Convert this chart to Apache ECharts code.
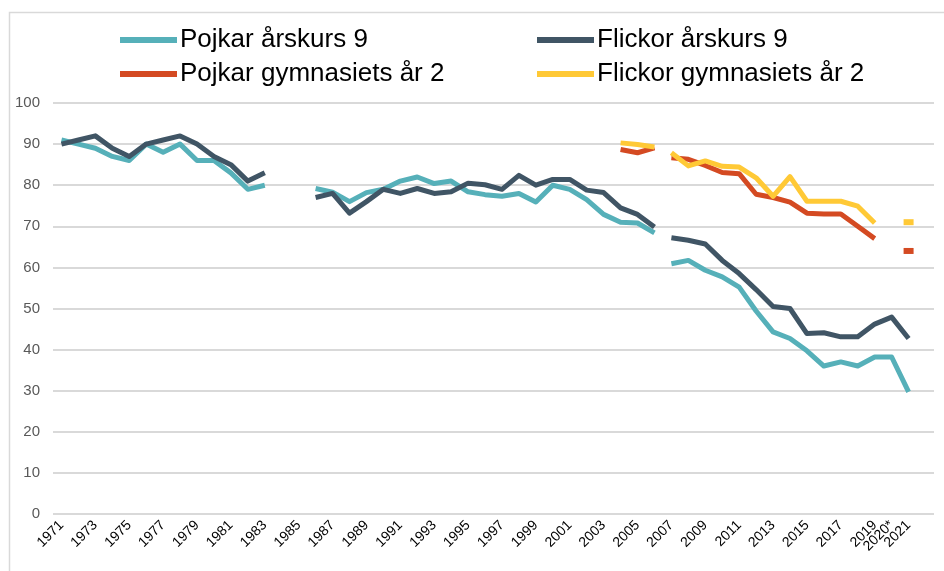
<!DOCTYPE html>
<html>
<head>
<meta charset="utf-8">
<script src="https://cdn.jsdelivr.net/npm/echarts@6/dist/echarts.min.js"></script>
<style>
html,body{margin:0;padding:0;background:#fff;}
#chart{width:944px;height:571px;}
</style>
</head>
<body>
<div id="chart"></div>
<script>
// Categories (years)
var categories = ['1971','1972','1973','1974','1975','1976','1977','1978','1979','1980',
  '1981','1982','1983','1984','1985','1986','1987','1988','1989','1990',
  '1991','1992','1993','1994','1995','1996','1997','1998','1999','2000',
  '2001','2002','2003','2004','2005','2006','2007','2008','2009','2010',
  '2011','2012','2013','2014','2015','2016','2017','2018','2019','2020*','2021'];

// Series values
var pojkarAk9 = [91,90,89,87,86,90,88,90,86,86,83,79,80,null,null,
  79.2,78.3,76,78.2,79,81,82,80.4,81,78.4,77.7,77.3,78,75.9,80,
  79,76.5,72.9,71,70.8,68.4,
  60.9,61.7,59.3,57.7,55.2,49.4,44.3,42.7,39.7,36,37,36,38.2,38.2,29.7];
var flickorAk9 = [90,91,92,89,87,90,91,92,90,87,85,81,83,null,null,
  77,78,73.2,76,79,78,79.2,78,78.4,80.5,80.1,79,82.4,80,81.4,
  81.4,78.8,78.2,74.5,72.9,69.8,
  67.2,66.6,65.7,61.7,58.5,54.6,50.5,50,43.9,44.1,43.1,43.1,46.2,47.9,42.7];
var pojkarGy2 = [null,null,null,null,null,null,null,null,null,null,
  null,null,null,null,null,null,null,null,null,null,
  null,null,null,null,null,null,null,null,null,null,
  null,null,null,88.7,87.9,89.1,
  86.7,86.3,84.8,83.1,82.8,77.8,77,75.9,73.2,73,73,70,67,null,64];
var flickorGy2 = [null,null,null,null,null,null,null,null,null,null,
  null,null,null,null,null,null,null,null,null,null,
  null,null,null,null,null,null,null,null,null,null,
  null,null,null,90.3,89.9,89.3,
  87.9,84.7,85.9,84.6,84.4,81.8,77.3,82.1,76.1,76.1,76.1,74.9,70.8,null,71];

// series break (line restarts at this year)
var breakYear = '2007';

var seriesDefs = [
  {name:'Pojkar årskurs 9', values:pojkarAk9, color:'#56B0B9'},
  {name:'Flickor årskurs 9', values:flickorAk9, color:'#405565'},
  {name:'Pojkar gymnasiets år 2', values:pojkarGy2, color:'#D44A22'},
  {name:'Flickor gymnasiets år 2', values:flickorGy2, color:'#FFC936'}
];

var breakIdx = categories.indexOf(breakYear);
var starIdx = categories.indexOf('2020*');

function segmentData(values, from, to) {
  var out = [];
  for (var i = 0; i < values.length; i++) {
    if (i < from || i >= to || values[i] == null) { out.push(null); continue; }
    var prev = (i - 1 >= from) ? values[i-1] : null;
    var next = (i + 1 < to) ? values[i+1] : null;
    if (prev == null && next == null) {
      out.push({value: values[i], symbol: 'rect', symbolSize: [10, 6]});
    } else {
      out.push(values[i]);
    }
  }
  return out;
}

var series = [];
seriesDefs.forEach(function (d) {
  [[0, breakIdx], [breakIdx, categories.length]].forEach(function (r) {
    series.push({
      name: d.name,
      type: 'line',
      xAxisIndex: 0,
      data: segmentData(d.values, r[0], r[1]),
      color: d.color,
      symbol: 'none',
      showSymbol: true,
      showAllSymbol: true,
      connectNulls: false,
      silent: true,
      animation: false,
      itemStyle: {color: d.color},
      lineStyle: {color: d.color, width: 5, cap: 'butt', join: 'round'}
    });
  });
});

var legendPos = [
  {name:'Pojkar årskurs 9', left:120, top:26},
  {name:'Flickor årskurs 9', left:537, top:26},
  {name:'Pojkar gymnasiets år 2', left:120, top:60},
  {name:'Flickor gymnasiets år 2', left:537, top:60}
];
var legends = legendPos.map(function (l) {
  return {
    data: [l.name],
    left: l.left,
    top: l.top,
    padding: 0,
    icon: 'rect',
    itemWidth: 57,
    itemHeight: 6,
    selectedMode: false,
    textStyle: {fontFamily: 'Liberation Sans, Arial, sans-serif', fontSize: 26, color: '#000', lineHeight: 28, padding: [0,0,0,-2]}
  };
});

function makeXAxis(showFn) {
  return {
    type: 'category',
    data: categories,
    position: 'bottom',
    boundaryGap: true,
    max: categories.length,
    axisLine: {show: false},
    axisTick: {show: false},
    splitLine: {show: false},
    axisLabel: {
      rotate: 45,
      fontSize: 14,
      color: '#000',
      margin: 9,
      hideOverlap: false,
      interval: showFn
    }
  };
}

var chart = echarts.init(document.getElementById('chart'), null, {renderer: 'canvas'});
chart.setOption({
  backgroundColor: '#fff',
  animation: false,
  textStyle: {fontFamily: 'Liberation Sans, Arial, sans-serif'},
  graphic: [{
    type: 'rect',
    shape: {x: 9.5, y: 12.5, width: 1000, height: 700},
    style: {fill: 'none', stroke: '#D9D9D9', lineWidth: 1.5},
    silent: true, z: -10
  }],
  legend: legends,
  grid: {left: 53, right: 10, top: 103, bottom: 57, containLabel: false},
  xAxis: [
    makeXAxis(function (index) {
      if (index >= categories.length || index === starIdx) return false;
      return index % 2 === 0 || index === categories.length - 1;
    }),
    makeXAxis(function (index) { return index === starIdx; })
  ],
  yAxis: {
    type: 'value',
    min: 0,
    max: 100,
    interval: 10,
    axisLine: {show: false},
    axisTick: {show: false},
    splitLine: {lineStyle: {color: '#D9D9D9', width: 2}},
    axisLabel: {fontSize: 15, color: '#595959', margin: 13}
  },
  series: series
});
</script>
</body>
</html>
